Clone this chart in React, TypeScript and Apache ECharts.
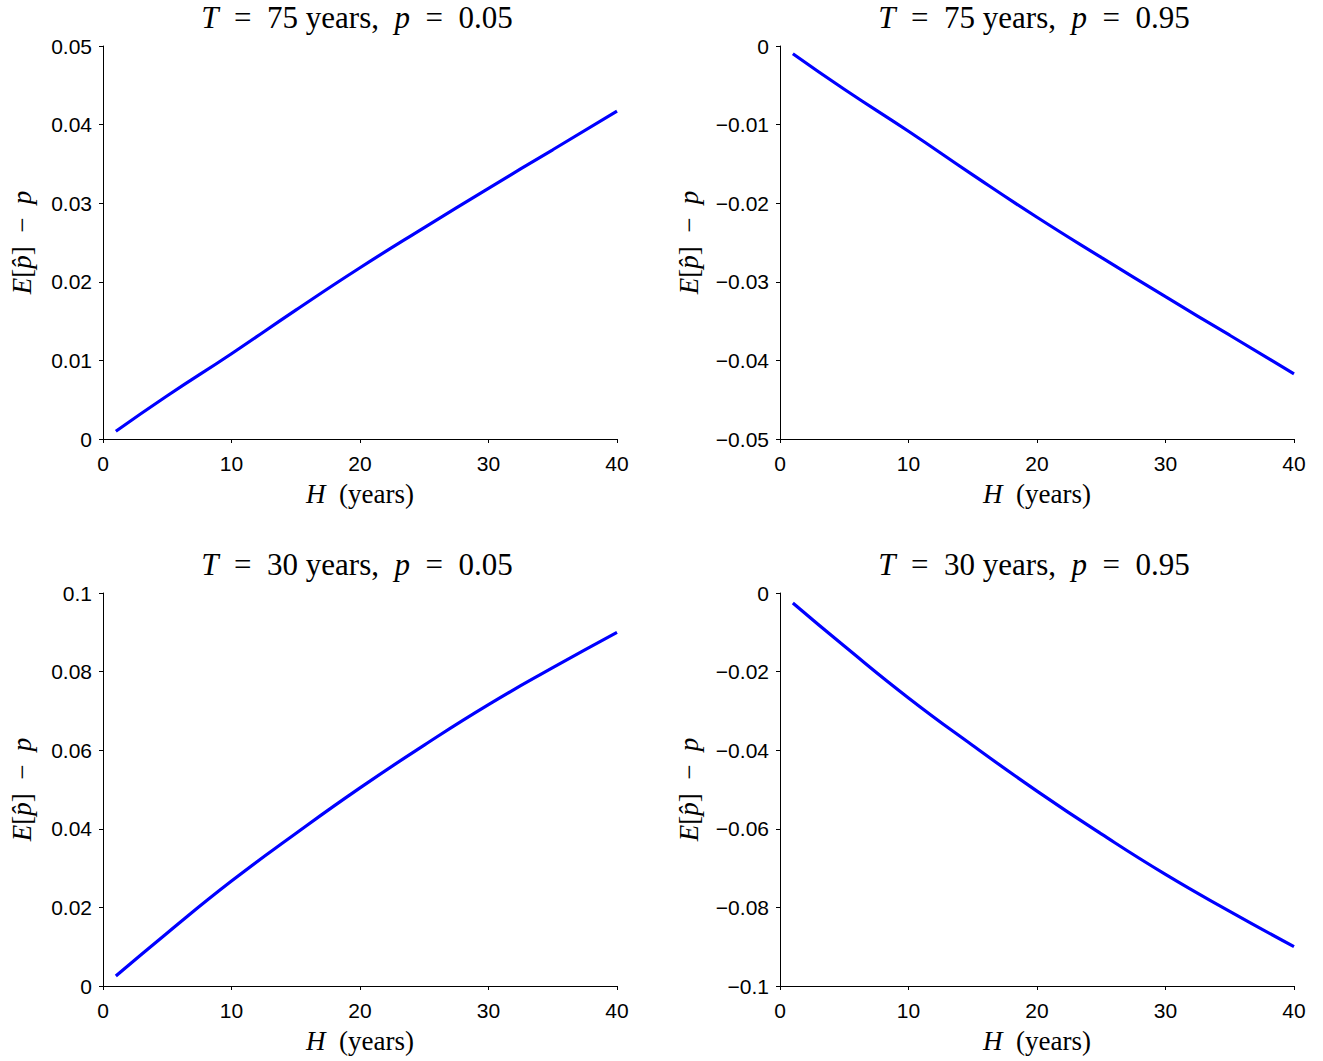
import React, { useEffect, useRef } from "react";
import * as echarts from "echarts";

const hYears = [1, 5, 10, 15, 20, 25, 30, 35, 40];
const biasT75p05 = [0.00098, 0.0055, 0.01085, 0.0164, 0.02179, 0.0269, 0.0319, 0.0368, 0.0417];
const biasT75p95 = [-0.00098, -0.0055, -0.01085, -0.0164, -0.02179, -0.0269, -0.0319, -0.0368, -0.0417];
const biasT30p05 = [0.00254, 0.0135, 0.0267, 0.0388, 0.0504, 0.0613, 0.0716, 0.081, 0.09];
const biasT30p95 = [-0.00254, -0.0135, -0.0267, -0.0388, -0.0504, -0.0613, -0.0716, -0.081, -0.09];

const panelTitles = [
  "{i|T}\u2002=\u200275 years,\u2002{i|p}\u2002=\u20020.05",
  "{i|T}\u2002=\u200275 years,\u2002{i|p}\u2002=\u20020.95",
  "{i|T}\u2002=\u200230 years,\u2002{i|p}\u2002=\u20020.05",
  "{i|T}\u2002=\u200230 years,\u2002{i|p}\u2002=\u20020.95",
];
const yRanges = [
  [0, 0.05, 0.01],
  [-0.05, 0, 0.01],
  [0, 0.1, 0.02],
  [-0.1, 0, 0.02],
];
const xName = "{i|H}\u2002(years)";
const yName = "{i|E}[{i|p\u0302}]\u2002\u2212\u2002{i|p}";

const SERIF = "'Liberation Serif', 'DejaVu Serif', serif";
const SANS = "'Liberation Sans', Arial, sans-serif";

export default function App() {
  const ref = useRef<HTMLDivElement>(null);
  useEffect(() => {
    document.body.style.margin = "0";
    if (!ref.current) return;
    const chart = echarts.init(ref.current, undefined, { renderer: "svg" });
    const grids = [
      { left: 103, top: 46, width: 514, height: 393 },
      { left: 780, top: 46, width: 514, height: 393 },
      { left: 103, top: 593, width: 514, height: 393 },
      { left: 780, top: 593, width: 514, height: 393 },
    ];
    const datasets = [biasT75p05, biasT75p95, biasT30p05, biasT30p95];
    const titleRich = {
      i: { fontStyle: "italic", fontFamily: SERIF, fontSize: 31, color: "#000" },
    };
    const nameRich = {
      i: { fontStyle: "italic", fontFamily: SERIF, fontSize: 27, color: "#000" },
    };
    const fmt = (v: number) => {
      const s = String(+v.toFixed(4));
      return s.replace("-", "\u2212");
    };
    const option: any = {
      animation: false,
      backgroundColor: "#fff",
      title: grids.map((g, k) => ({
        text: panelTitles[k],
        left: g.left + g.width / 2 - 3,
        top: k >= 2 ? 549 : 2,
        padding: 0,
        textAlign: "center",
        textStyle: {
          fontFamily: SERIF,
          fontSize: 31,
          fontWeight: "normal",
          color: "#000",
          rich: titleRich,
        },
      })),
      grid: grids.map((g) => ({ ...g, containLabel: false })),
      xAxis: grids.map((g, k) => ({
        type: "value",
        gridIndex: k,
        min: 0,
        max: 40,
        interval: 10,
        name: xName,
        nameLocation: "middle",
        nameGap: 41,
        nameTextStyle: {
          fontFamily: SERIF,
          fontSize: 27,
          color: "#000",
          rich: nameRich,
        },
        axisLine: { show: true, onZero: false, lineStyle: { color: "#000", width: 1 } },
        axisTick: { show: true, inside: false, length: 4, lineStyle: { color: "#000" } },
        axisLabel: { fontFamily: SANS, fontSize: 21, color: "#000", margin: 14, formatter: fmt },
        splitLine: { show: false },
      })),
      yAxis: grids.map((g, k) => ({
        type: "value",
        gridIndex: k,
        min: yRanges[k][0],
        max: yRanges[k][1],
        interval: yRanges[k][2],
        name: yName,
        nameLocation: "middle",
        nameRotate: 90,
        nameGap: k % 2 === 0 ? 68 : 78,
        nameTextStyle: {
          fontFamily: SERIF,
          fontSize: 27,
          color: "#000",
          rich: nameRich,
        },
        axisLine: { show: true, onZero: false, lineStyle: { color: "#000", width: 1 } },
        axisTick: { show: true, inside: false, length: 4, lineStyle: { color: "#000" } },
        axisLabel: { fontFamily: SANS, fontSize: 21, color: "#000", margin: 11, formatter: fmt },
        splitLine: { show: false },
      })),
      series: datasets.map((d, k) => ({
        type: "line",
        xAxisIndex: k,
        yAxisIndex: k,
        data: hYears.map((h, j) => [h, d[j]]),
        smooth: true,
        showSymbol: false,
        lineStyle: { color: "#0000ff", width: 3.2 },
      })),
    };
    chart.setOption(option);
    return () => chart.dispose();
  }, []);
  return <div ref={ref} style={{ width: 1323, height: 1061 }} />;
}
